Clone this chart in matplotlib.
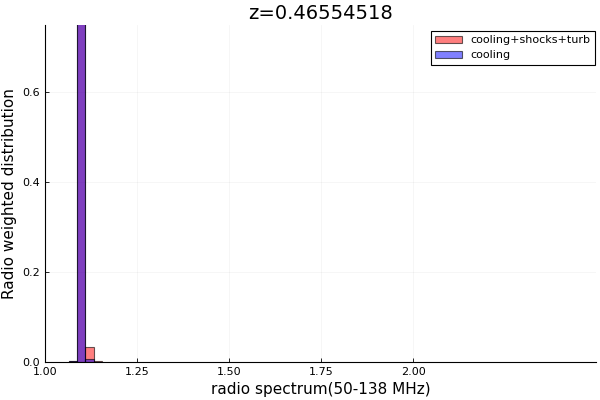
import matplotlib
matplotlib.use("Agg")
import matplotlib.pyplot as plt
import numpy as np

bin_edges = [1.065, 1.0875, 1.11, 1.1325, 1.155]
turb_vals = [0.003, 0.95, 0.034, 0.002]
cool_vals = [0.003, 0.97, 0.007, 0.0]
x_ticks = [1.00, 1.25, 1.50, 1.75, 2.00]
y_ticks = [0.0, 0.2, 0.4, 0.6]

fig = plt.figure(figsize=(6, 4), dpi=100)
ax = fig.add_axes([45/600, 38/400, 551/600, 337/400])

edges = np.array(bin_edges)
widths = np.diff(edges)
ax.bar(edges[:-1], turb_vals, width=widths, align='edge', color=(1, 0, 0, 0.5),
       edgecolor=(0, 0, 0, 0.6), linewidth=0.8, label='cooling+shocks+turb')
ax.bar(edges[:-1], cool_vals, width=widths, align='edge', color=(0, 0, 1, 0.5),
       edgecolor=(0, 0, 0, 0.6), linewidth=0.8, label='cooling')

ax.set_xlim(1.0, 2.497)
ax.set_ylim(0, 0.749)
ax.set_xticks(x_ticks)
ax.set_xticklabels([f"{t:.2f}" for t in x_ticks])
ax.set_yticks(y_ticks)
ax.set_yticklabels([f"{t:.1f}" for t in y_ticks])
ax.tick_params(labelsize=8, direction='in', length=3, width=0.6)
ax.grid(True, color='#000000', alpha=0.05, linewidth=0.5)
ax.set_axisbelow(True)
for s in ['top', 'right']:
    ax.spines[s].set_visible(False)
ax.set_xlabel('radio spectrum(50-138 MHz)', fontsize=11)
ax.set_ylabel('Radio weighted distribution', fontsize=11)
ax.set_title('z=0.46554518', fontsize=14, pad=4)
leg = ax.legend(loc='upper right', bbox_to_anchor=(595/600, 369/400),
                bbox_transform=fig.transFigure, fontsize=8, fancybox=False,
                framealpha=1, edgecolor='black', borderaxespad=0.0,
                handlelength=2.4, borderpad=0.4, labelspacing=0.45)
leg.get_frame().set_linewidth(0.8)

fig.savefig('out.png', dpi=100)
